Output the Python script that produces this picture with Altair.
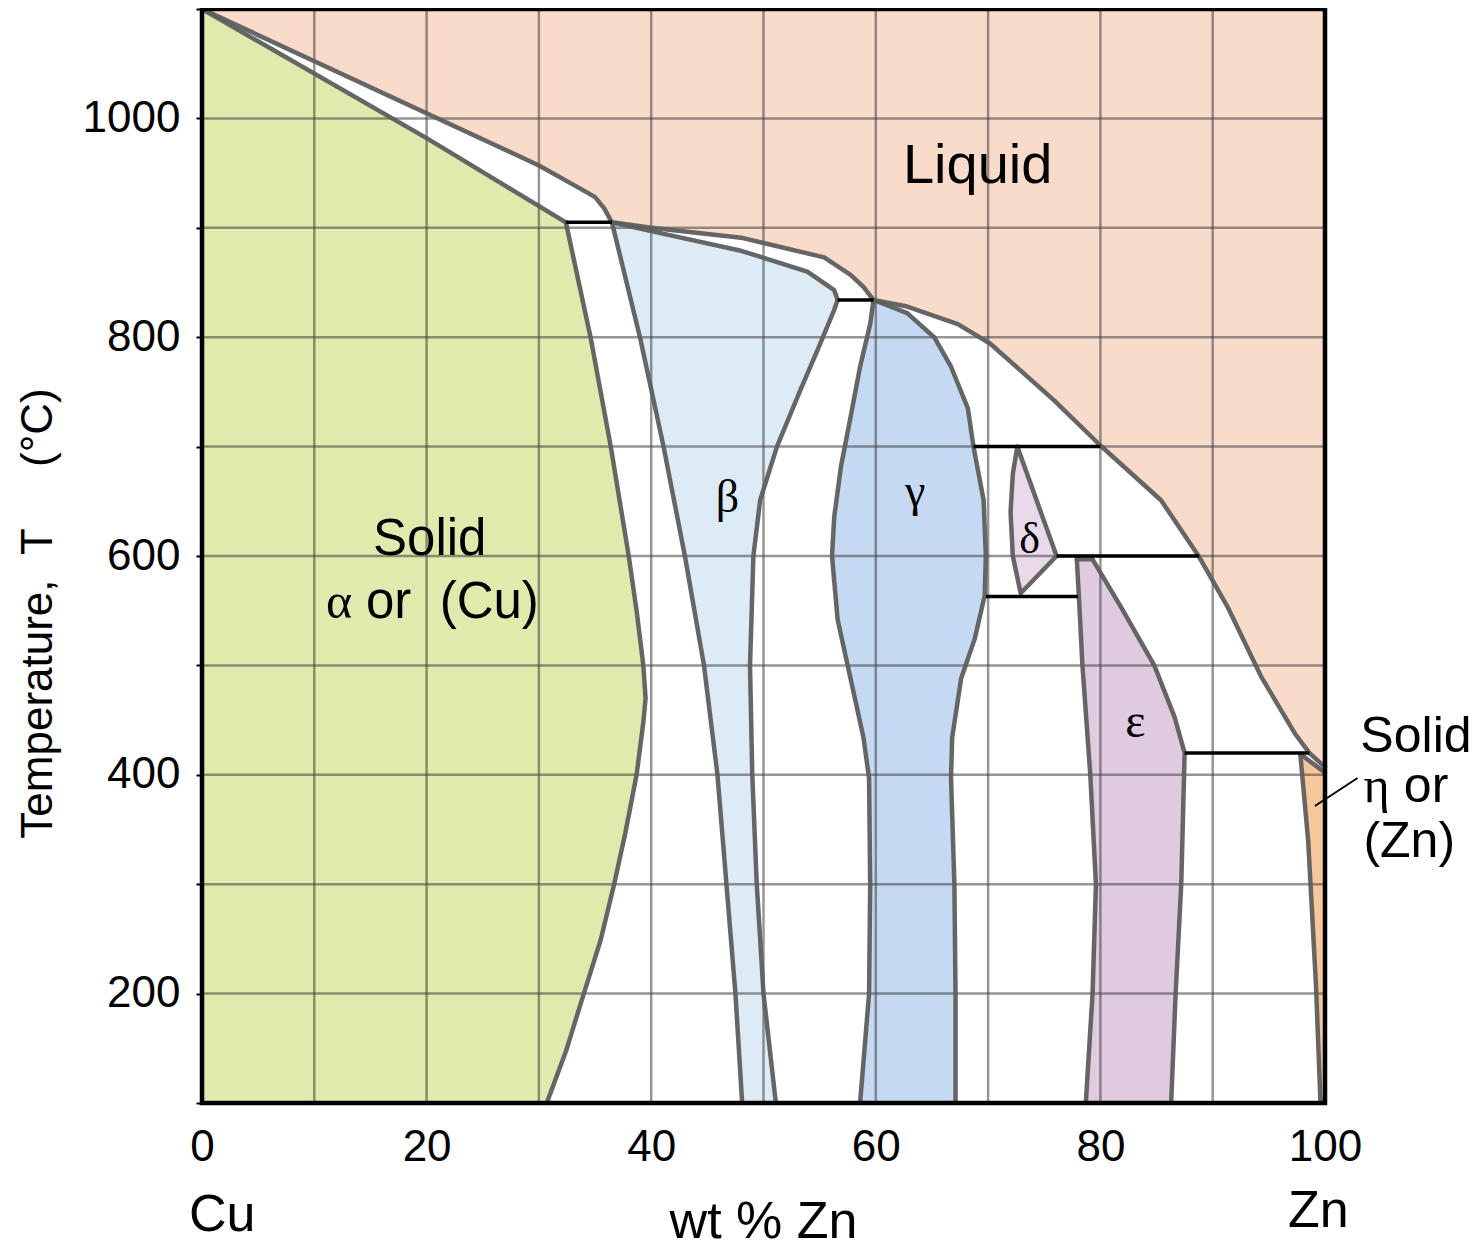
import altair as alt
import pandas as pd

# ---------------- phase boundaries (wt % Zn , temperature in degC) ----------------
LIQ_X = [0, 30, 34.0, 35.0, 35.8, 36.5, 40, 48, 55.4, 57.75, 58.9, 59.8, 62.8, 67.3, 70.2, 75.9, 80.0, 85.4, 88.8, 91.3, 94.3, 97.3, 98.6, 100]
LIQ_T = [1100, 957, 934, 928, 918, 905, 900, 891, 873, 857, 846, 834, 828, 812, 794, 742, 701, 651, 599, 554, 490, 438, 420, 407]

SOLA_X = [0, 20, 32.4]
SOLA_T = [1100, 982, 905]

SOLVA_X = [32.4, 34.6, 36.4, 38.0, 38.7, 39.3, 39.5, 39.3, 38.7, 37.7, 36.7, 35.5, 34.0, 32.4, 30.7]
SOLVA_T = [905, 800, 700, 600, 550, 500, 470, 448, 400, 347, 300, 249, 200, 147, 100]

BETA_L_X = [36.5, 39.0, 41.1, 43.0, 44.7, 45.9, 46.7, 47.5, 48.1]
BETA_L_T = [905, 800, 700, 600, 500, 400, 300, 200, 100]
BETA_TOP_X = [36.5, 40.0, 48.0, 53.9, 56.3, 56.6]
BETA_TOP_T = [905, 897, 879, 860, 843, 834]
BETA_R_X = [56.6, 56.3, 54.8, 53.3, 51.2, 49.7, 49.1, 48.8, 49.0, 49.4, 50.0, 51.1]
BETA_R_T = [834, 825, 788, 752, 700, 651, 600, 500, 400, 300, 200, 100]

GAM_L_X = [59.8, 59.5, 58.6, 57.75, 56.9, 56.3, 56.1, 56.6, 57.75, 58.9, 59.4, 59.5, 59.4, 58.6]
GAM_L_T = [834, 812, 773, 727, 682, 636, 600, 542, 488, 434, 397, 300, 200, 100]
GAM_R_X = [59.8, 62.8, 65.2, 66.7, 68.2, 68.7, 69.6, 69.8, 69.7, 68.8, 67.6, 66.8, 66.7, 67.0, 67.1, 67.1]
GAM_R_T = [834, 822, 800, 773, 735, 700, 651, 600, 564, 524, 488, 434, 397, 300, 200, 100]

DEL_X = [72.6, 76.1, 72.9, 72.2, 72.0, 72.2, 72.6]
DEL_T = [700, 600, 566, 600, 640, 675, 700]

EPS_L_X = [77.9, 78.1, 78.4, 79.1, 79.6, 79.3, 78.7]
EPS_L_T = [597, 560, 500, 400, 300, 200, 100]
EPS_R_X = [79.3, 81.8, 84.8, 86.6, 87.5, 87.2, 86.7, 86.3]
EPS_R_T = [597, 554, 500, 453, 420, 300, 200, 100]

ETA_L_X = [97.8, 98.5, 99.2, 99.6]
ETA_L_T = [419, 340, 207, 100]
ETA_TOP_X = [97.8, 100]
ETA_TOP_T = [419, 402]

# horizontal invariant (tie) lines
TIE_X1 = [32.4, 56.6, 68.7, 76.1, 69.8, 87.5]
TIE_X2 = [36.5, 59.8, 80.0, 88.8, 78.0, 98.6]
TIE_T = [905, 834, 700, 600, 563, 420]

GRID_X = [10, 20, 30, 40, 50, 60, 70, 80, 90]
GRID_T = [200, 300, 400, 500, 600, 700, 800, 900, 1000]

# labels
SANS_TXT = ["Liquid", "Solid", "or\u00a0\u00a0(Cu)", "Solid", "or", "(Zn)", "Cu", "Zn", "wt % Zn"]
SANS_X = [69.07, 20.28, 22.3, 108.1, 109.0, 107.5, 1.8, 99.4, 50.0]
SANS_T = [940.9, 600.9, 543.3, 420.8, 375.1, 324.9, -17.0, -13.5, -23.0]
SANS_SIZE = [56, 51, 51, 50, 50, 50, 52, 52, 52]

SERIF_TXT = ["β", "γ", "δ", "ε", "α", "η"]
SERIF_X = [46.8, 63.5, 73.7, 83.1, 12.2, 104.6]
SERIF_T = [640, 646, 602.7, 434.6, 543.3, 375.1]
SERIF_SIZE = [46, 46, 44, 48, 50, 50]

POINTER = {"x": [99.1], "T": [371.5], "x2": [102.9], "T2": [397.1]}

C_LIQ = "#F9DBCA"
C_ALPHA = "#DFEAAD"
C_BETA = "#DDEBF6"
C_GAMMA = "#C5D9F2"
C_DELTA = "#E9D9EB"
C_EPS = "#E0CAE0"
C_ETA = "#F5C79A"

SANS = "Liberation Sans"
SERIF = "Liberation Serif"


def path(name, xs, ts):
    return pd.DataFrame({"name": name, "i": list(range(len(xs))), "x": xs, "T": ts})


X_SCALE = alt.Scale(domain=[0, 100], nice=False, zero=False)
Y_SCALE = alt.Scale(domain=[100, 1100], nice=False, zero=False)
AX_X = alt.Axis(values=[0, 20, 40, 60, 80, 100], ticks=False, tickSize=0, domain=False, grid=False,
                labelFont=SANS, labelFontSize=44, labelColor="black", labelPadding=22, title=None,
                labelFlush=False)
AX_Y = alt.Axis(values=list(range(100, 1101, 100)), domain=False, grid=False,
                labelExpr="(datum.value % 200 == 0 && datum.value >= 200 && datum.value <= 1000) ? datum.value : ''",
                tickSize=6, tickWidth=2, tickColor="black",
                labelFont=SANS, labelFontSize=44, labelColor="black", labelPadding=16,
                title="Temperature,\u00a0\u00a0T\u00a0\u00a0\u00a0\u00a0\u00a0(°C)", titleFont=SANS, titleFontSize=44,
                titleFontWeight="normal", titleColor="black", titlePadding=22, titleY=604, labelFlush=False)


def xy(xf="x", yf="T"):
    return dict(x=alt.X(f"{xf}:Q", scale=X_SCALE, axis=AX_X),
                y=alt.Y(f"{yf}:Q", scale=Y_SCALE, axis=AX_Y))


def region(df, color):
    return alt.Chart(df).mark_line(fill=color, strokeOpacity=0, strokeWidth=0).encode(
        order=alt.Order("i:Q"), **xy())


rev = lambda a: list(reversed(a))

liq_poly = path("liq", LIQ_X + [100, 0], LIQ_T + [1100, 1100])
alpha_poly = path("alpha", SOLA_X + SOLVA_X[1:] + [0], SOLA_T + SOLVA_T[1:] + [100])
beta_poly = path("beta", BETA_TOP_X + BETA_R_X[1:] + rev(BETA_L_X), BETA_TOP_T + BETA_R_T[1:] + rev(BETA_L_T))
gamma_poly = path("gamma", GAM_R_X + rev(GAM_L_X), GAM_R_T + rev(GAM_L_T))
delta_poly = path("delta", DEL_X, DEL_T)
eps_poly = path("eps", EPS_L_X + rev(EPS_R_X), EPS_L_T + rev(EPS_R_T))
eta_poly = path("eta", ETA_L_X + [100] + rev(ETA_TOP_X), ETA_L_T + [100] + rev(ETA_TOP_T))

fills = [region(liq_poly, C_LIQ), region(alpha_poly, C_ALPHA), region(beta_poly, C_BETA),
         region(gamma_poly, C_GAMMA), region(delta_poly, C_DELTA), region(eps_poly, C_EPS),
         region(eta_poly, C_ETA)]

grid_v = alt.Chart(pd.DataFrame({"x": GRID_X})).mark_rule(color="#404040", opacity=0.55, strokeWidth=2.5).encode(
    x=alt.X("x:Q", scale=X_SCALE, axis=AX_X))
grid_h = alt.Chart(pd.DataFrame({"T": GRID_T})).mark_rule(color="#404040", opacity=0.55, strokeWidth=2.5).encode(
    y=alt.Y("T:Q", scale=Y_SCALE, axis=AX_Y))

bounds = pd.concat([
    path("liq", LIQ_X, LIQ_T), path("sola", SOLA_X, SOLA_T), path("solva", SOLVA_X, SOLVA_T),
    path("bl", BETA_L_X, BETA_L_T), path("bt", BETA_TOP_X, BETA_TOP_T), path("br", BETA_R_X, BETA_R_T),
    path("gl", GAM_L_X, GAM_L_T), path("gr", GAM_R_X, GAM_R_T), path("d", DEL_X, DEL_T),
    path("el", EPS_L_X, EPS_L_T), path("er", EPS_R_X, EPS_R_T),
    path("et", [EPS_L_X[0], EPS_R_X[0]], [EPS_L_T[0], EPS_R_T[0]]),
    path("hl", ETA_L_X, ETA_L_T), path("ht", ETA_TOP_X, ETA_TOP_T),
])
bound_lines = alt.Chart(bounds).mark_line(stroke="#5e5e5e", strokeWidth=4.5, strokeJoin="round",
                                          strokeCap="round", opacity=0.95).encode(
    detail="name:N", order=alt.Order("i:Q"), **xy())

ties = alt.Chart(pd.DataFrame({"x": TIE_X1, "x2": TIE_X2, "T": TIE_T})).mark_rule(
    color="black", strokeWidth=3.5).encode(x2="x2:Q", **xy())

frame = alt.Chart(pd.DataFrame({"x": [0], "x2": [100], "T": [100], "T2": [1100]})).mark_rect(
    fillOpacity=0, stroke="black", strokeWidth=4.5).encode(x2="x2:Q", y2="T2:Q", **xy())

pointer = alt.Chart(pd.DataFrame(POINTER)).mark_rule(color="black", strokeWidth=2).encode(
    x2="x2:Q", y2="T2:Q", **xy())

sans_txt = alt.Chart(pd.DataFrame({"t": SANS_TXT, "x": SANS_X, "T": SANS_T, "s": SANS_SIZE})).mark_text(
    font=SANS, baseline="alphabetic", align="center", color="black").encode(
    text="t:N", size=alt.Size("s:Q", scale=None, legend=None), **xy())

serif_txt = alt.Chart(pd.DataFrame({"t": SERIF_TXT, "x": SERIF_X, "T": SERIF_T, "s": SERIF_SIZE})).mark_text(
    font=SERIF, baseline="alphabetic", align="center", color="black").encode(
    text="t:N", size=alt.Size("s:Q", scale=None, legend=None), **xy())

chart = alt.layer(*fills, grid_v, grid_h, bound_lines, ties, frame, pointer, sans_txt, serif_txt).properties(
    width=1123, height=1094,
    autosize=alt.AutoSizeParams(type="none"),
    padding={"left": 194, "top": 1, "right": 148, "bottom": 137},
    background="white",
).configure_view(strokeWidth=0)

chart.save("out.html", embed_options={"renderer": "svg", "actions": False})
